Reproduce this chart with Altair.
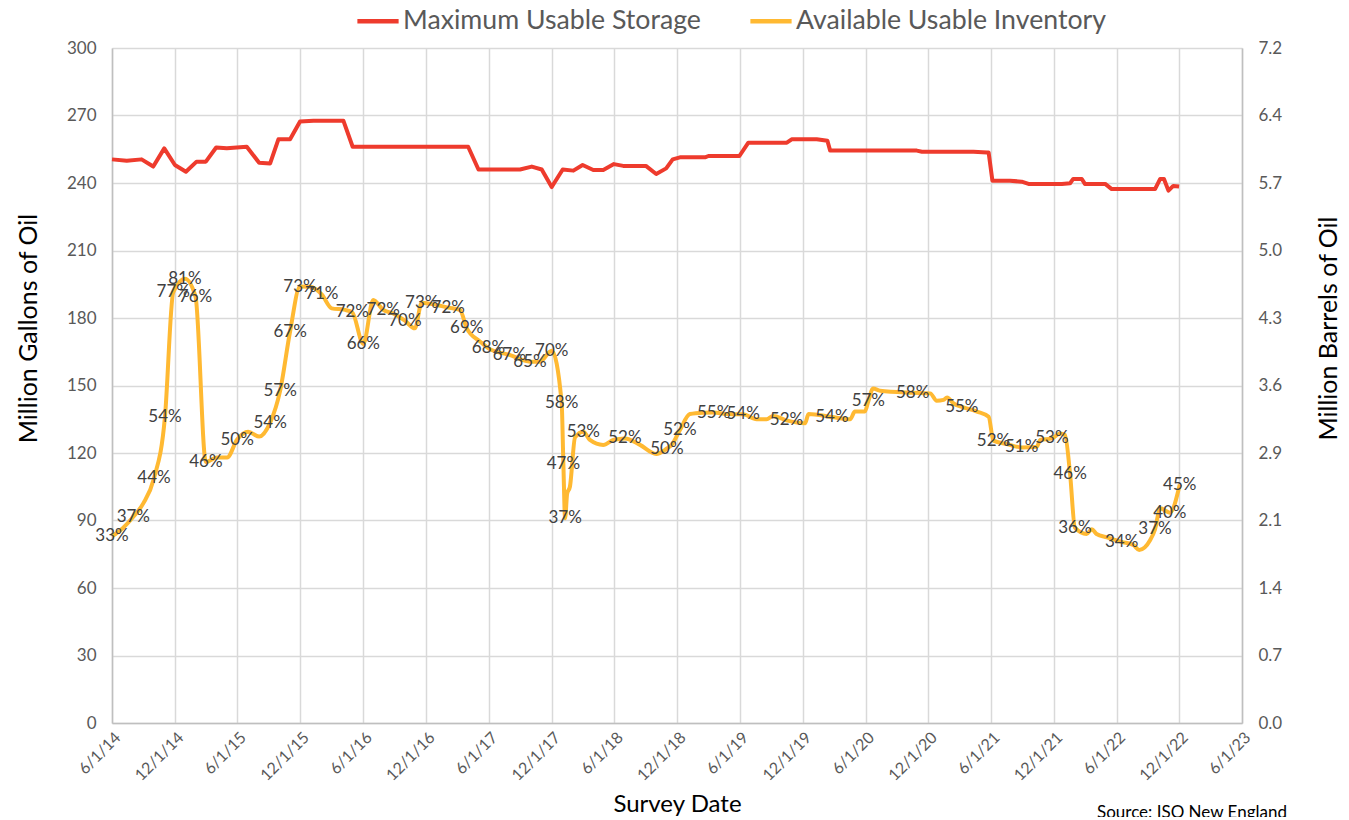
import altair as alt
import pandas as pd

# ---------------- data ----------------
storage_dates = ["2014-06-01","2014-07-14","2014-08-26","2014-09-29","2014-10-31","2014-12-01",
    "2015-01-02","2015-02-02","2015-03-01","2015-03-31","2015-05-01","2015-06-28","2015-08-03",
    "2015-09-04","2015-09-28","2015-11-01","2015-11-30","2016-01-08","2016-04-04","2016-05-01",
    "2017-04-02","2017-05-02","2017-08-31","2017-10-04","2017-11-02","2017-12-01","2018-01-02",
    "2018-02-02","2018-03-01","2018-04-01","2018-04-30","2018-05-31","2018-06-27","2018-09-01",
    "2018-10-01","2018-10-30","2018-11-18","2018-12-09","2019-02-20","2019-03-02","2019-05-31",
    "2019-06-26","2019-10-16","2019-10-30","2020-01-11","2020-02-11","2020-02-19","2020-10-28",
    "2020-11-12","2021-04-11","2021-05-20","2021-05-25","2021-06-05","2021-07-26","2021-08-29",
    "2021-09-18","2021-12-24","2022-01-17","2022-01-26","2022-02-20","2022-03-01","2022-04-29",
    "2022-05-18","2022-09-21","2022-10-06","2022-10-17","2022-10-30","2022-11-13","2022-11-30"]
storage_values = [250.5,249.9,250.5,247.3,255.4,248.0,245.0,249.5,249.5,255.8,255.4,256.1,249.0,
    248.7,259.4,259.4,267.3,267.7,267.7,256.1,256.1,246.0,246.0,247.3,246.0,238.2,246.0,
    245.5,248.0,245.8,245.8,248.4,247.6,247.6,244.0,246.5,250.5,251.4,251.4,252.0,252.0,
    257.9,257.9,259.4,259.4,258.8,254.4,254.4,253.9,253.9,253.6,253.6,241.0,241.0,240.6,
    239.6,239.6,239.9,241.8,241.8,239.6,239.6,237.3,237.3,241.8,241.8,236.6,238.7,238.4]

inventory_dates = ["2014-06-01","2014-06-24","2014-08-02","2014-08-31","2014-10-01","2014-11-02",
    "2014-11-26","2014-12-30","2015-01-30","2015-03-01","2015-04-02","2015-05-02","2015-05-31",
    "2015-07-02","2015-08-03","2015-09-04","2015-10-03","2015-11-01","2015-11-30","2015-12-29",
    "2016-02-01","2016-03-01","2016-04-09","2016-04-30","2016-06-01","2016-06-30","2016-07-29",
    "2016-08-27","2016-09-30","2016-10-29","2016-11-18","2016-12-31","2017-02-03","2017-03-09",
    "2017-03-29","2017-05-07","2017-05-31","2017-07-31","2017-09-29","2017-10-28","2017-12-01",
    "2017-12-30","2018-01-04","2018-01-09","2018-01-15","2018-01-23","2018-02-07","2018-03-03",
    "2018-03-22","2018-04-30","2018-05-29","2018-07-02","2018-08-15","2018-10-01","2018-11-01",
    "2018-11-15","2018-12-09","2019-01-07","2019-02-15","2019-03-17","2019-04-24","2019-06-11",
    "2019-07-20","2019-08-18","2019-09-06","2019-10-15","2019-12-08","2019-12-18","2020-02-24",
    "2020-04-17","2020-05-01","2020-05-30","2020-06-09","2020-06-23","2020-07-13","2020-10-16",
    "2020-12-06","2020-12-25","2021-01-14","2021-01-24","2021-02-12","2021-03-08","2021-04-21",
    "2021-05-25","2021-06-08","2021-07-17","2021-08-29","2021-10-12","2021-10-22","2021-11-25",
    "2021-12-19","2022-01-02","2022-01-17","2022-01-31","2022-03-06","2022-03-21","2022-04-04",
    "2022-05-04","2022-06-16","2022-07-20","2022-08-06","2022-09-07","2022-09-21","2022-10-06",
    "2022-11-03","2022-12-02"]
inventory_values = [83.0,85.5,91.7,97.6,108.7,136.0,191.4,197.5,189.5,116.0,118.0,118.0,126.0,
    129.5,127.3,133.5,147.6,174.0,194.0,193.9,190.5,184.3,183.6,182.5,168.5,188.0,183.6,
    182.0,178.8,175.4,186.8,185.8,184.6,183.6,175.4,169.5,166.5,163.6,160.6,160.6,165.5,
    142.4,115.1,91.0,102.0,105.0,127.0,129.5,125.8,123.6,125.8,126.5,123.6,119.6,122.0,
    123.6,130.2,137.3,137.9,138.0,137.3,137.2,135.0,135.0,136.4,134.5,133.2,137.3,136.0,
    135.0,138.4,138.4,143.0,148.7,147.7,146.8,146.5,143.2,143.6,144.7,142.0,140.5,138.4,
    136.1,125.5,124.0,122.5,122.8,125.8,126.5,128.7,128.0,110.5,86.8,84.0,86.1,84.0,
    82.5,80.5,79.1,76.9,81.3,86.1,95.4,93.5,106.0]
inventory_labels = ["33%","","37%","","44%","54%","77%","81%","76%","46%","","","50%",
    "","","54%","57%","67%","73%","","71%","","","72%","66%","","72%",
    "","70%","","73%","","72%","","69%","","68%","67%","65%","","70%",
    "58%","47%","37%","","","","53%","","","","52%","","","50%",
    "","52%","","","55%","","54%","","","","52%","","","54%",
    "","","","57%","","","58%","","","","","","55%","",
    "","52%","","51%","","","53%","","","46%","36%","","","",
    "","34%","","","","37%","","40%","45%"]

series_names = ["Maximum Usable Storage", "Available Usable Inventory"]
series_colors = ["#EE3B2D", "#FFB932"]
left_ticks = [0, 30, 60, 90, 120, 150, 180, 210, 240, 270, 300]
right_tick_labels = ["0.0","0.7","1.4","2.1","2.9","3.6","4.3","5.0","5.7","6.4","7.2"]
x_tick_dates = [(2014,6),(2014,12),(2015,6),(2015,12),(2016,6),(2016,12),(2017,6),(2017,12),
    (2018,6),(2018,12),(2019,6),(2019,12),(2020,6),(2020,12),(2021,6),(2021,12),(2022,6),
    (2022,12),(2023,6)]

# ---------------- tables ----------------
df_storage = pd.DataFrame({"date": pd.to_datetime(storage_dates), "value": storage_values,
                           "series": series_names[0]})
df_inv = pd.DataFrame({"date": pd.to_datetime(inventory_dates), "value": inventory_values,
                       "series": series_names[1], "label": inventory_labels})
df_lab = df_inv[df_inv["label"] != ""]

FONT = "Lato"
GRAY = "#595959"
GRID = "#d9d9d9"

x_values = [alt.DateTime(year=y, month=m, date=1) for y, m in x_tick_dates]
x_scale = alt.Scale(domain=[x_values[0], x_values[-1]])
y_scale = alt.Scale(domain=[0, 300], nice=False, zero=True)

x_enc = alt.X("date:T", scale=x_scale, axis=alt.Axis(
    values=x_values, format="%-m/%-d/%y", labelAngle=-45, labelAlign="right",
    labelBaseline="top", labelFontSize=16, labelColor=GRAY, labelFont=FONT,
    grid=True, gridColor=GRID, gridWidth=1.5, ticks=False, labelPadding=6,
    domainColor="#bfbfbf", domainWidth=1.5, title="Survey Date", titleFontSize=24,
    titleFont=FONT, titleFontWeight="normal", titleColor="#000000", titlePadding=9))

color_enc = alt.Color("series:N", scale=alt.Scale(domain=series_names, range=series_colors),
    legend=alt.Legend(title=None, orient="none", legendX=243, legendY=-50,
        direction="horizontal", symbolType="stroke", symbolSize=1700,
        symbolStrokeWidth=4.5, labelFontSize=26.7, labelFont=FONT, labelColor=GRAY,
        columnPadding=40, labelOffset=2, labelLimit=400))

storage = alt.Chart(df_storage).mark_line(strokeWidth=4, strokeJoin="round").encode(
    x=x_enc,
    y=alt.Y("value:Q", scale=y_scale, axis=alt.Axis(
        values=left_ticks, grid=True, gridColor=GRID, gridWidth=1.5, ticks=False,
        labelFontSize=17, labelColor=GRAY, labelFont=FONT, labelPadding=16,
        domainColor="#bfbfbf", domainWidth=1.5,
        title="Million Gallons of Oil", titleFontSize=25, titleFont=FONT,
        titleFontWeight="normal", titleColor="#000000", titleAngle=-90,
        titleX=-84, titleY=280, titleAlign="center", titleBaseline="middle")),
    color=color_enc,
)

inventory = alt.Chart(df_inv).mark_line(strokeWidth=4, strokeJoin="round",
                                        interpolate="monotone").encode(
    x=alt.X("date:T", scale=x_scale),
    y=alt.Y("value:Q", scale=y_scale, axis=None),
    color=color_enc,
)

labels = alt.Chart(df_lab).mark_text(font=FONT, fontSize=17, color="#404040",
                                      align="center", baseline="middle").encode(
    x=alt.X("date:T", scale=x_scale),
    y=alt.Y("value:Q", scale=y_scale, axis=None),
    text="label:N",
)

label_expr = "[" + ",".join("'%s'" % s for s in right_tick_labels) + "][round(datum.value/30)]"
right_axis = alt.Chart(df_storage).mark_line(opacity=0).encode(
    x=alt.X("date:T", scale=x_scale),
    y=alt.Y("value:Q", scale=y_scale, axis=alt.Axis(
        orient="right", values=left_ticks, labelExpr=label_expr, grid=False, ticks=False,
        labelFontSize=17, labelColor=GRAY, labelFont=FONT, labelPadding=16,
        domainColor="#bfbfbf", domainWidth=1.5,
        title="Million Barrels of Oil", titleFontSize=25, titleFont=FONT,
        titleFontWeight="normal", titleColor="#000000", titleAngle=-90,
        titleX=86, titleY=280, titleAlign="center", titleBaseline="middle")),
)

source = alt.Chart(pd.DataFrame({"t": ["Source: ISO New England"]})).mark_text(
    font=FONT, fontSize=17, color="#000000", align="left", baseline="top").encode(
    x=alt.value(985), y=alt.value(757), text="t:N")

chart = alt.layer(storage, inventory, labels, right_axis, source).resolve_scale(
    y="independent").properties(
    width=1130, height=675,
    autosize=alt.AutoSizeParams(type="none"),
    padding={"left": 104, "top": 40, "right": 99, "bottom": 94},
).configure_view(stroke=None)

chart.save("out.html", embed_options={"renderer": "svg", "actions": False})
